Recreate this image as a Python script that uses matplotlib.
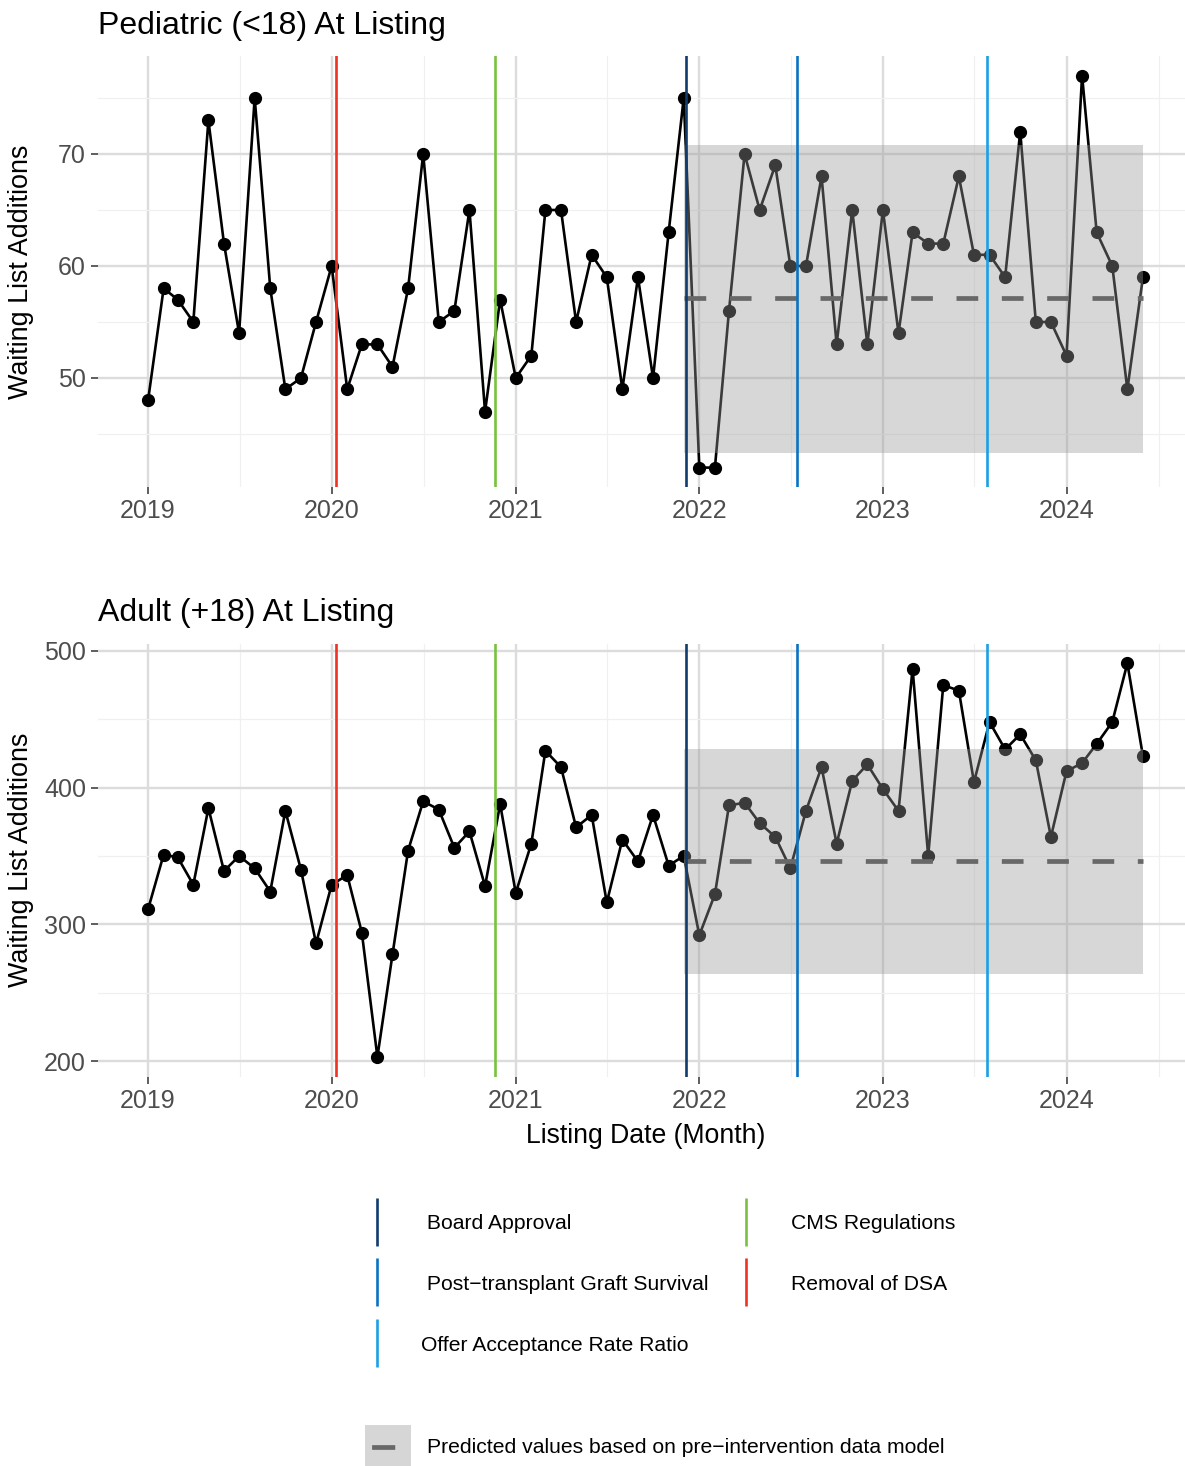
import numpy as np
import pandas as pd
import matplotlib
matplotlib.use("Agg")
import matplotlib.pyplot as plt
import matplotlib.dates as mdates
from matplotlib.lines import Line2D
from matplotlib.patches import Patch
from matplotlib.legend_handler import HandlerTuple, HandlerLine2D

plt.rcParams['font.family'] = ['Liberation Sans', 'DejaVu Sans']

# ---------------- data ----------------
months = pd.date_range("2019-01-01", "2024-06-01", freq="MS")

pediatric = [48, 58, 57, 55, 73, 62, 54, 75, 58, 49, 50, 55,
             60, 49, 53, 53, 51, 58, 70, 55, 56, 65, 47, 57,
             50, 52, 65, 65, 55, 61, 59, 49, 59, 50, 63, 75,
             42, 42, 56, 70, 65, 69, 60, 60, 68, 53, 65, 53,
             65, 54, 63, 62, 62, 68, 61, 61, 59, 72, 55, 55,
             52, 77, 63, 60, 49, 59]

adult = [311, 351, 349, 329, 385, 339, 350, 341, 324, 383, 340, 286,
         329, 336, 294, 203, 278, 354, 390, 384, 356, 368, 328, 388,
         323, 359, 427, 415, 371, 380, 316, 362, 346, 380, 343, 350,
         292, 322, 387, 389, 374, 364, 341, 383, 415, 359, 405, 417,
         399, 383, 487, 350, 475, 471, 404, 448, 428, 439, 420, 364,
         412, 418, 432, 448, 491, 423]

pred_start = "2021-12-01"
pred_end = "2024-06-01"
ped_pred, ped_lo, ped_hi = 57.1, 43.3, 70.8
adult_pred, adult_lo, adult_hi = 346.0, 264.0, 428.0

event_names = ["Board Approval", "Post\u2212transplant Graft Survival",
               "Offer Acceptance Rate Ratio", "CMS Regulations", "Removal of DSA"]
event_dates = ["2021-12-06", "2022-07-14", "2023-07-27", "2020-11-20", "2020-01-09"]
event_colors = ["#103C6E", "#0A72C2", "#1BA0E2", "#7AC142", "#EE3224"]
legend_labels = [" Board Approval", " Post\u2212transplant Graft Survival",
                 "Offer Acceptance Rate Ratio", "CMS Regulations", "Removal of DSA"]

titles = ["Pediatric (<18) At Listing", "Adult (+18) At Listing"]
yticks_top = [50, 60, 70]
yminor_top = [45, 55, 65, 75]
yticks_bot = [200, 300, 400, 500]
yminor_bot = [250, 350, 450]
ylims = [(40.25, 78.75), (188.6, 505.4)]

# ---------------- figure ----------------
W, H = 1185, 1466
fig = plt.figure(figsize=(W / 100, H / 100), dpi=100)

def px_axes(left, right, top, bottom):
    return fig.add_axes([left / W, 1 - bottom / H, (right - left) / W, (bottom - top) / H])

ax1 = px_axes(98.3, 1192.7, 56.0, 487.2)
ax2 = px_axes(98.3, 1192.7, 643.6, 1076.6)

xmin = pd.Timestamp("2019-01-01") - pd.Timedelta(days=98.9)
xmax = pd.Timestamp("2024-06-01") + pd.Timedelta(days=98.9)

year_ticks = [pd.Timestamp(f"{y}-01-01") for y in range(2019, 2025)]
half_ticks = [pd.Timestamp(f"{y}-07-02") for y in range(2019, 2025)]

ribbon_x = months[(months >= pd.Timestamp(pred_start)) & (months <= pd.Timestamp(pred_end))]

series = [pediatric, adult]
preds = [(ped_pred, ped_lo, ped_hi), (adult_pred, adult_lo, adult_hi)]
majors = [yticks_top, yticks_bot]
minors = [yminor_top, yminor_bot]

for i, ax in enumerate([ax1, ax2]):
    ax.set_facecolor("white")
    for s in ax.spines.values():
        s.set_visible(False)
    ax.set_xlim(xmin, xmax)
    ax.set_ylim(*ylims[i])
    ax.set_xticks(year_ticks)
    ax.set_xticks(half_ticks, minor=True)
    ax.xaxis.set_major_formatter(mdates.DateFormatter("%Y"))
    ax.set_yticks(majors[i])
    ax.set_yticks(minors[i], minor=True)
    ax.grid(True, which="major", color="#DCDCDC", linewidth=1.7, zorder=0)
    ax.grid(True, which="minor", color="#F0F0F0", linewidth=0.9, zorder=0)
    ax.set_axisbelow(True)
    ax.tick_params(which="major", length=4.8, width=1.1, color="#333333",
                   labelcolor="#4D4D4D", labelsize=18, pad=4)
    ax.tick_params(which="minor", length=0)

    # observed series
    ax.plot(months, series[i], color="black", linewidth=1.9, zorder=3)
    ax.plot(months, series[i], "o", color="black", markersize=8.5, zorder=3)

    # prediction
    p, lo, hi = preds[i]
    ax.plot([ribbon_x[0], ribbon_x[-1]], [p, p], color="#686868", linewidth=3.4,
            dashes=(4.6, 5.0), zorder=5, solid_capstyle="butt", dash_capstyle="butt")
    ax.fill_between(ribbon_x, lo, hi, color=(0.6, 0.6, 0.6), alpha=0.39,
                    linewidth=0, zorder=4)

    # events
    for d, c in zip(event_dates, event_colors):
        ax.axvline(pd.Timestamp(d), color=c, linewidth=1.9, zorder=6)

    ax.set_title(titles[i], loc="left", fontsize=23, pad=16.0, color="black")
    ax.set_ylabel("Waiting List Additions", fontsize=19.4, color="black")
    ax.yaxis.set_label_coords(-0.0585, 0.5)

ax2.set_xlabel("Listing Date (Month)", fontsize=19.2, color="black", labelpad=7)

# ---------------- legends ----------------
handles = [Line2D([], [], color=c, marker="|", linestyle="None",
                  markersize=34, markeredgewidth=1.9) for c in event_colors]
leg1 = fig.legend(handles, legend_labels, ncol=2, loc="upper left",
                  bbox_to_anchor=(366.5 / W, 1 - 1214 / H), frameon=False,
                  fontsize=15.2, handlelength=1.0, handletextpad=1.6,
                  columnspacing=1.28, labelspacing=1.98, borderpad=0,
                  borderaxespad=0)


class CenteredLine(HandlerLine2D):
    def create_artists(self, legend, orig_handle, xdescent, ydescent,
                       width, height, fontsize, trans):
        return super().create_artists(legend, orig_handle, xdescent, 2 * ydescent,
                                      width, height, fontsize, trans)


key_patch = Patch(facecolor="#D6D6D6", edgecolor="none")
key_line = Line2D([], [], color="#686868", linewidth=3.4,
                  linestyle=(23.5, (4.9, 20.0)), dash_capstyle="butt")
leg2 = fig.legend([(key_patch, key_line)],
                  ["Predicted values based on pre\u2212intervention data model"],
                  loc="upper left", bbox_to_anchor=(365 / W, 1 - 1425 / H),
                  frameon=False, fontsize=15.2, handlelength=2.2, handleheight=2.76,
                  handletextpad=0.75, borderpad=0, borderaxespad=0,
                  handler_map={tuple: HandlerTuple(ndivide=1), Line2D: CenteredLine()})

fig.savefig("out.png", dpi=100)
